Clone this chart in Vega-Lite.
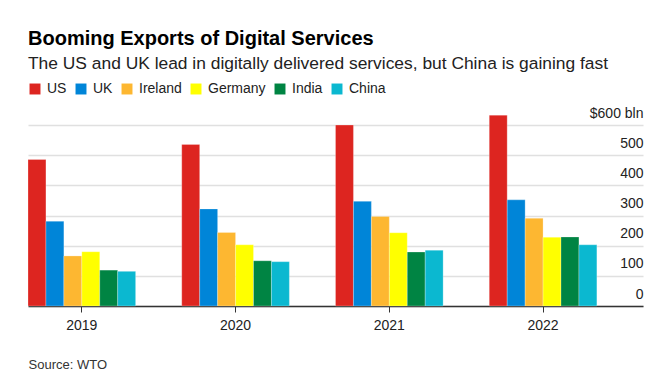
{
  "$schema": "https://vega.github.io/schema/vega-lite/v6.json",
  "width": 615,
  "height": 196,
  "padding": {"left": 27, "top": 28, "right": 30, "bottom": 5},
  "background": "white",
  "title": {
    "text": "Booming Exports of Digital Services",
    "subtitle": "The US and UK lead in digitally delivered services, but China is gaining fast",
    "anchor": "start",
    "frame": "group",
    "font": "Liberation Sans",
    "fontSize": 20,
    "fontWeight": "bold",
    "color": "#000000",
    "subtitleFont": "Liberation Sans",
    "subtitleFontSize": 17.4,
    "subtitleColor": "#222222",
    "subtitlePadding": 6,
    "offset": 10
  },
  "data": {
    "values": [
      {"year": "2019", "country": "US", "value": 486},
      {"year": "2019", "country": "UK", "value": 281},
      {"year": "2019", "country": "Ireland", "value": 166},
      {"year": "2019", "country": "Germany", "value": 180},
      {"year": "2019", "country": "India", "value": 119},
      {"year": "2019", "country": "China", "value": 115},
      {"year": "2020", "country": "US", "value": 536},
      {"year": "2020", "country": "UK", "value": 322},
      {"year": "2020", "country": "Ireland", "value": 244},
      {"year": "2020", "country": "Germany", "value": 203},
      {"year": "2020", "country": "India", "value": 150},
      {"year": "2020", "country": "China", "value": 147},
      {"year": "2021", "country": "US", "value": 600},
      {"year": "2021", "country": "UK", "value": 347},
      {"year": "2021", "country": "Ireland", "value": 297},
      {"year": "2021", "country": "Germany", "value": 243},
      {"year": "2021", "country": "India", "value": 179},
      {"year": "2021", "country": "China", "value": 185},
      {"year": "2022", "country": "US", "value": 633},
      {"year": "2022", "country": "UK", "value": 352},
      {"year": "2022", "country": "Ireland", "value": 291},
      {"year": "2022", "country": "Germany", "value": 228},
      {"year": "2022", "country": "India", "value": 229},
      {"year": "2022", "country": "China", "value": 203}
    ]
  },
  "mark": {"type": "bar", "stroke": "white", "strokeWidth": 1, "strokeOpacity": 0.25},
  "encoding": {
    "x": {
      "field": "year",
      "type": "nominal",
      "scale": {"paddingInner": 0.3, "paddingOuter": 0.15, "align": 0},
      "axis": {
        "title": "Source: WTO",
        "titleAnchor": "start",
        "titleAlign": "left",
        "titleFont": "Liberation Sans",
        "titleFontSize": 13,
        "titleFontWeight": "normal",
        "titleColor": "#333333",
        "titlePadding": 26,
        "labelAngle": 0,
        "labelFont": "Liberation Sans",
        "labelFontSize": 14,
        "labelColor": "#222222",
        "labelPadding": 6,
        "tickSize": 6,
        "tickColor": "#333333",
        "domainColor": "#333333",
        "domainWidth": 1.5,
        "grid": false
      }
    },
    "xOffset": {
      "field": "country",
      "type": "nominal",
      "sort": ["US", "UK", "Ireland", "Germany", "India", "China"],
      "scale": {"paddingInner": 0, "paddingOuter": 0}
    },
    "y": {
      "field": "value",
      "type": "quantitative",
      "scale": {"domain": [0, 650], "nice": false},
      "axis": {
        "orient": "right",
        "title": null,
        "values": [0, 100, 200, 300, 400, 500, 600],
        "labelExpr": "datum.value == 600 ? '$600 bln' : datum.label",
        "labelAlign": "right",
        "labelBaseline": "alphabetic",
        "labelOffset": -8,
        "labelPadding": 0,
        "ticks": false,
        "domain": false,
        "labelFont": "Liberation Sans",
        "labelFontSize": 14,
        "labelColor": "#222222",
        "gridColor": "#e0e0e0",
        "gridWidth": 1.5
      }
    },
    "color": {
      "field": "country",
      "type": "nominal",
      "sort": ["US", "UK", "Ireland", "Germany", "India", "China"],
      "scale": {
        "domain": ["US", "UK", "Ireland", "Germany", "India", "China"],
        "range": ["#dd2520", "#0085d8", "#fdb731", "#ffff00", "#008443", "#0bb8d0"]
      },
      "legend": {
        "title": null,
        "orient": "top",
        "direction": "horizontal",
        "symbolType": "square",
        "symbolSize": 120,
        "symbolStrokeWidth": 0,
        "symbolOpacity": 1,
        "labelFont": "Liberation Sans",
        "labelFontSize": 14,
        "labelColor": "#222222",
        "columnPadding": 7,
        "labelOffset": 5,
        "offset": 14
      }
    }
  },
  "config": {"view": {"stroke": null}}
}
